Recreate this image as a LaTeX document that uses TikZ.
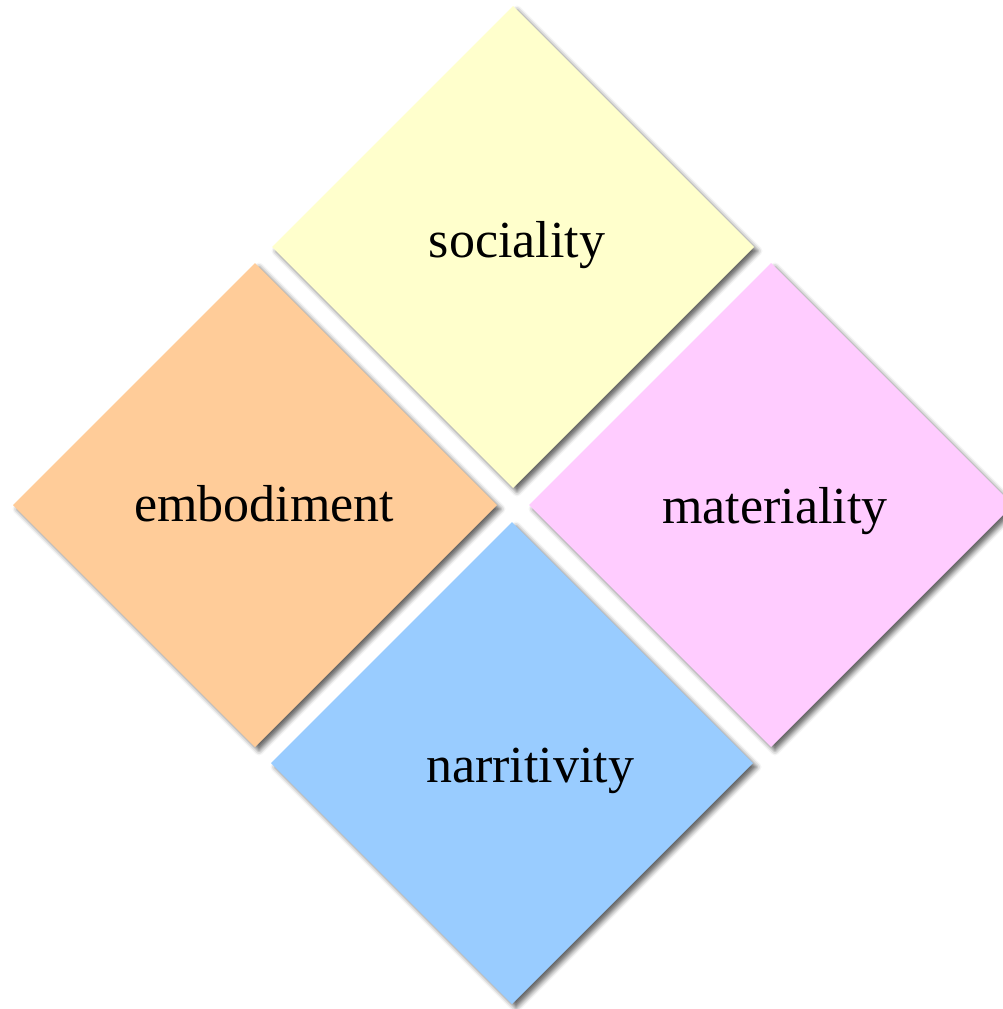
\documentclass[tikz,border=0pt]{standalone}
\usepackage{fontspec}
\setmainfont{Liberation Serif}
\usetikzlibrary{shadows.blur}
\definecolor{socc}{HTML}{FFFFCC}
\definecolor{embc}{HTML}{FFCC99}
\definecolor{matc}{HTML}{FFCCFF}
\definecolor{narc}{HTML}{99CCFF}
\newcommand\mysq[4]{\path[sqbox, fill=#3] (#1,#2-#4) -- (#1+#4,#2) -- (#1,#2+#4) -- (#1-#4,#2) -- cycle;}
\begin{document}
\begin{tikzpicture}[x=1pt,y=-1pt,
  sqbox/.style={blur shadow={shadow xshift=4pt, shadow yshift=-4pt, shadow blur radius=4.5pt, shadow opacity=60}},
  lab/.style={anchor=base, font=\fontsize{52}{60}\selectfont, inner sep=0pt}]
\useasboundingbox (0,0) rectangle (1002,1009);
\mysq{513}{247}{socc}{241}
\mysq{255}{505}{embc}{242}
\mysq{771}{505}{matc}{242}
\mysq{512}{763}{narc}{241}
\node[lab] (soc) at (517,257) {sociality};
\node[lab] (emb) at (264,521) {embodiment};
\node[lab] (mat) at (775,523) {materiality};
\node[lab] (nar) at (530,782) {narritivity};
\end{tikzpicture}
\end{document}
